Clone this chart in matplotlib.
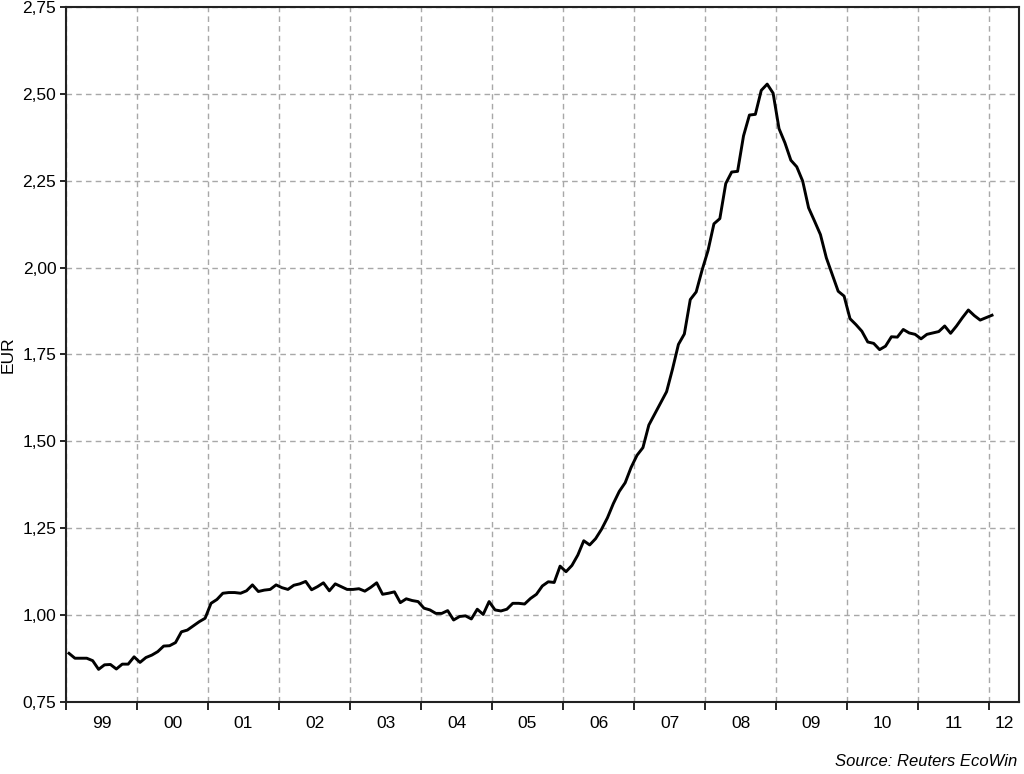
import numpy as np
import matplotlib
matplotlib.use("Agg")
from matplotlib import pyplot as plt
from matplotlib.ticker import FixedLocator, NullFormatter, FixedFormatter

plt.rcParams['font.family'] = ['Liberation Sans', 'DejaVu Sans']

# monthly price in EUR, Jan 1999 .. Jan 2012
start_year = 1999
values = [
    0.890, 0.876, 0.876, 0.876, 0.869, 0.844, 0.857, 0.858, 0.845, 0.859, 0.859, 0.880,
    0.864, 0.878, 0.885, 0.895, 0.911, 0.912, 0.921, 0.952, 0.957, 0.969, 0.981, 0.991,
    1.034, 1.045, 1.063, 1.065, 1.065, 1.063, 1.070, 1.087, 1.068, 1.072, 1.074, 1.087,
    1.079, 1.074, 1.086, 1.090, 1.097, 1.073, 1.082, 1.093, 1.070, 1.090, 1.082, 1.074,
    1.074, 1.076, 1.069, 1.080, 1.093, 1.060, 1.063, 1.067, 1.036, 1.047, 1.042, 1.039,
    1.020, 1.015, 1.005, 1.005, 1.013, 0.986, 0.996, 0.998, 0.989, 1.017, 1.002, 1.039,
    1.015, 1.012, 1.017, 1.034, 1.034, 1.032, 1.048, 1.060, 1.084, 1.096, 1.094, 1.141,
    1.125, 1.143, 1.173, 1.214, 1.202, 1.220, 1.247, 1.280, 1.321, 1.356, 1.381, 1.425,
    1.460, 1.482, 1.547, 1.579, 1.611, 1.643, 1.708, 1.779, 1.809, 1.908, 1.930, 1.993,
    2.049, 2.126, 2.141, 2.242, 2.275, 2.277, 2.379, 2.439, 2.441, 2.510, 2.528, 2.502,
    2.400, 2.359, 2.309, 2.290, 2.249, 2.172, 2.134, 2.095, 2.028, 1.980, 1.932, 1.918,
    1.853, 1.836, 1.817, 1.786, 1.782, 1.764, 1.774, 1.801, 1.800, 1.822, 1.812, 1.808,
    1.795, 1.808, 1.812, 1.816, 1.832, 1.811, 1.832, 1.856, 1.878, 1.862, 1.849, 1.856,
    1.863,
]
year_labels = ['99', '00', '01', '02', '03', '04', '05', '06', '07', '08', '09', '10', '11', '12']
y_ticks = [0.75, 1.00, 1.25, 1.50, 1.75, 2.00, 2.25, 2.50, 2.75]

values = np.array(values)
x = start_year + (np.arange(len(values)) + 0.5) / 12.0

fig = plt.figure(figsize=(10.24, 7.74), dpi=100)
ax = fig.add_axes([0.0645, 0.093, 0.9305, 0.898])

ax.plot(x, values, color='black', lw=2.1, zorder=3)

x_end = 2012.42
ax.set_xlim(start_year, x_end)
ax.set_ylim(0.75, 2.75)

# year boundaries: ticks + grid, labels centred in each year
years = np.arange(start_year, 2013)
ax.xaxis.set_major_locator(FixedLocator(years))
ax.xaxis.set_major_formatter(NullFormatter())
label_pos = [y + 0.5 for y in years[:-1]] + [(2012 + x_end) / 2]
ax.xaxis.set_minor_locator(FixedLocator(label_pos))
ax.xaxis.set_minor_formatter(FixedFormatter(year_labels))
ax.tick_params(axis='x', which='major', length=6, width=1.2, direction='out')
ax.tick_params(axis='x', which='minor', length=0, pad=10, labelsize=12.5)

ax.set_yticks(y_ticks)
ax.set_yticklabels([('%.2f' % v).replace('.', ',') for v in y_ticks])
ax.tick_params(axis='y', length=4, width=1.2, direction='out', labelsize=12.5, pad=3)

ax.grid(True, which='major', color='#a8a8a8', linestyle=(0, (4, 3)), lw=1.0)
for s in ax.spines.values():
    s.set_linewidth(1.5)
    s.set_color('#222222')

ax.set_ylabel('EUR', fontsize=12.5)
ax.yaxis.set_label_coords(-0.053, 0.5)

fig.text(0.993, 0.006, 'Source: Reuters EcoWin', ha='right', va='bottom',
         fontsize=12, style='italic')

plt.savefig('out.png', dpi=100)
